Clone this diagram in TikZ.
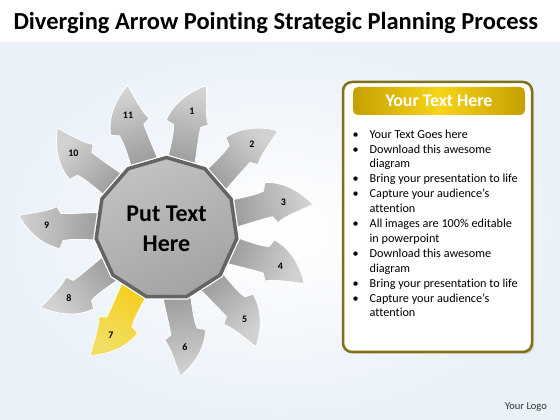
\documentclass[tikz,border=0pt]{standalone}
\usepackage{fontspec}
\setmainfont{Carlito}[Ligatures = NoCommon]
\usetikzlibrary{shapes.geometric}

\definecolor{armdark}{RGB}{138,138,138}
\definecolor{armlight}{RGB}{210,210,210}
\definecolor{golddark}{RGB}{246,200,0}
\definecolor{goldlight}{RGB}{242,222,100}
\definecolor{hubline}{RGB}{100,100,100}
\definecolor{panelline}{RGB}{128,112,24}
\definecolor{barside}{RGB}{198,160,0}
\definecolor{barmid}{RGB}{246,212,24}
\definecolor{skyfade}{RGB}{234,241,249}

\tikzset{
    armshape/.style = {insert path = {(40,14) .. controls (70,14) and (92,12) .. (103,15) -- (106,23) .. controls (125,20) and (140,5) .. (148,-9) .. controls (135,-12) and (118,-14) .. (110,-19) -- (106,-12) .. controls (90,-12) and (70,-15) .. (40,-15) -- cycle}},
    arm/.style = {draw = white, line width = .8pt, top color = armlight, bottom color = armdark},
    num/.style = {font = \fontsize{10}{12}\selectfont\bfseries},
    hub/.style = {regular polygon, regular polygon sides = 11, minimum size = 142pt, inner sep = 0pt,
        draw = hubline, line width = 3.5pt, top color = gray!48, bottom color = gray!72, shading angle = 25,
        preaction = {draw = white, line width = 6pt}, align = center,
        font = \fontsize{24}{30}\selectfont\bfseries},
}

\begin{document}
\begin{tikzpicture}[x = 1pt, y = 1pt]
    \useasboundingbox (0,0) rectangle (560,420);
    % background
    \fill[inner color = white, outer color = skyfade] (0,0) rectangle (560,378);
    \fill[white] (0,378) rectangle (560,420);
    \node[anchor = west, font = \fontsize{24.5}{28}\selectfont\bfseries] (title) at (10,397) {Diverging Arrow Pointing Strategic Planning Process};

    \coordinate (c) at (166.5,191.5);
    % gray arms
    \foreach \n/\a in {1/77.8, 2/44.7, 3/12.8, 4/-18.3, 5/-49.4, 6/-81.2, 8/-144.4, 9/178.4, 10/140.9, 11/108.7} {
        \pgfmathsetmacro{\sa}{\a - 90}
        \begin{scope}[shift = {(c)}, rotate = \a]
            \path[arm, shading angle = \sa, armshape];
            \node[num] (n\n) at (120,0) {\n};
        \end{scope}
    }
    % highlighted arm
    \pgfmathsetmacro{\sa}{-117.6 - 90}
    \begin{scope}[shift = {(c)}, rotate = -117.6]
        \path[arm, top color = goldlight, bottom color = golddark, shading angle = \sa, armshape];
        \node[num] (n7) at (120,0) {7};
    \end{scope}

    \node[hub] (hub) at (c) {Put Text\\Here};

    % text panel
    \fill[black!18, rounded corners = 9pt] (345,66) rectangle (534,336);
    \draw[panelline, fill = white, line width = 2.5pt, rounded corners = 9pt] (343,68) rectangle (532,338);
    \shade[left color = barside, right color = barside, middle color = barmid, rounded corners = 5pt] (353,305) rectangle (525,333);
    \node[white, font = \fontsize{17.8}{20}\selectfont\bfseries] (head) at (439,319) {Your Text Here};
    \node[anchor = north west, inner sep = 0pt, font = \fontsize{12.2}{14.9}\selectfont] (list) at (352.5,292.5) {%
        \begin{tabular}{@{}p{17pt}@{}l@{}}
            \textbullet & Your Text Goes here\\
            \textbullet & Download this awesome\\
                        & diagram\\
            \textbullet & Bring your presentation to life\\
            \textbullet & Capture your audience’s\\
                        & attention\\
            \textbullet & All images are 100\% editable\\
                        & in powerpoint\\
            \textbullet & Download this awesome\\
                        & diagram\\
            \textbullet & Bring your presentation to life\\
            \textbullet & Capture your audience’s\\
                        & attention
        \end{tabular}};

    \node[black!80, font = \fontsize{10.5}{12}\selectfont] (logo) at (526,13) {Your Logo};
\end{tikzpicture}
\end{document}
